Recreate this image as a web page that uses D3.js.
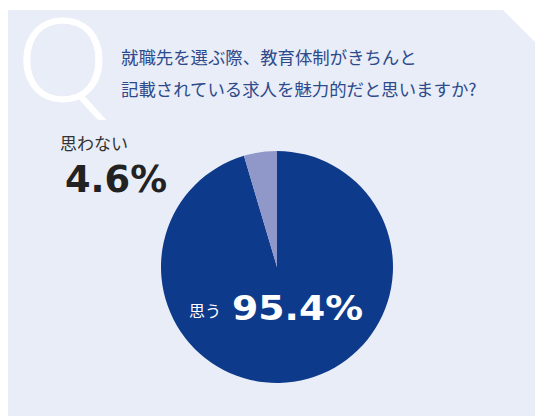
<!DOCTYPE html>
<html>
<head>
<meta charset="utf-8">
<script src="https://cdn.jsdelivr.net/npm/d3@7"></script>
<style>
  html, body { margin: 0; padding: 0; background: #fff; }
  svg { display: block; }
</style>
</head>
<body>
<svg id="chart" width="535" height="418"></svg>
<script>
// answers and their shares (%)
var answers = ["思う", "思わない"];
var shares = [95.4, 4.6];
var sliceColors = ["#0d3a8a", "#9097c9"];
var questionLines = ["就職先を選ぶ際、教育体制がきちんと", "記載されている求人を魅力的だと思いますか?"];

var svg = d3.select("#chart");
var jp = "'Noto Sans CJK JP', 'Noto Sans', sans-serif";
var num = "'DejaVu Sans', sans-serif";

// background panel with clipped top-right corner
svg.append("path")
    .attr("d", "M8,10 L503,10 L535,42 L535,416 L8,416 Z")
    .attr("fill", "#e9edf7");

// big outlined Q
svg.append("text")
    .attr("x", 17)
    .attr("y", 101)
    .attr("font-family", "Lato, 'DejaVu Sans', sans-serif")
    .attr("font-weight", 300)
    .attr("font-size", 116)
    .attr("fill", "#ffffff")
    .attr("stroke", "#ffffff")
    .attr("stroke-width", 0.8)
    .text("Q");

// question text
svg.selectAll("text.q")
    .data(questionLines)
    .enter().append("text")
    .attr("class", "q")
    .attr("x", 121)
    .attr("y", function(d, i) { return 64 + i * 32; })
    .attr("font-family", jp)
    .attr("font-size", 17.4)
    .attr("fill", "#2c4a8c")
    .text(function(d) { return d; });

// pie
var cx = 277, cy = 267, r = 116;
var pie = d3.pie().sort(null).value(function(d) { return d; });
var arc = d3.arc().innerRadius(0).outerRadius(r);
var g = svg.append("g").attr("transform", "translate(" + cx + "," + cy + ")");
g.selectAll("path")
    .data(pie(shares))
    .enter().append("path")
    .attr("d", arc)
    .attr("fill", function(d, i) { return sliceColors[i]; });

// labels
svg.append("text")
    .attr("x", 60)
    .attr("y", 150)
    .attr("font-family", jp)
    .attr("font-size", 17)
    .attr("fill", "#333333")
    .text(answers[1]);

svg.append("text")
    .attr("x", 65)
    .attr("y", 192)
    .attr("font-family", num)
    .attr("font-weight", "bold")
    .attr("font-size", 37)
    .attr("textLength", 102)
    .attr("lengthAdjust", "spacingAndGlyphs")
    .attr("fill", "#222222")
    .text(shares[1].toFixed(1) + "%");

svg.append("text")
    .attr("x", 189)
    .attr("y", 317)
    .attr("font-family", jp)
    .attr("font-size", 16)
    .attr("fill", "#ffffff")
    .text(answers[0]);

svg.append("text")
    .attr("x", 232)
    .attr("y", 320)
    .attr("font-family", num)
    .attr("font-weight", "bold")
    .attr("font-size", 33)
    .attr("textLength", 131)
    .attr("lengthAdjust", "spacingAndGlyphs")
    .attr("fill", "#ffffff")
    .text(shares[0].toFixed(1) + "%");
</script>
</body>
</html>
